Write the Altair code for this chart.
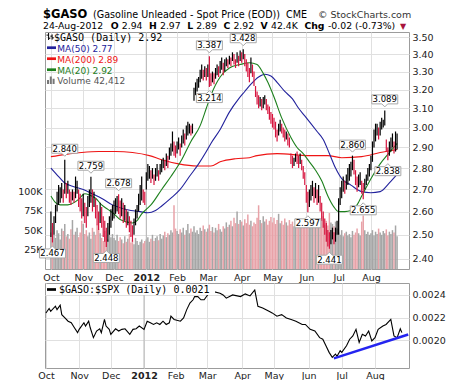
import json
import altair as alt
import pandas as pd

# ---------------- data ----------------
month_labels = ["Oct", "Nov", "Dec", "2012", "Feb", "Mar", "Apr", "May", "Jun", "Jul", "Aug"]
month_start = [0, 21, 41, 62, 82, 102, 124, 144, 166, 187, 208]   # trading-day index of first day of month

lo = [
    # Oct
    2.49, 2.467, 2.50, 2.55, 2.60, 2.63, 2.64, 2.66, 2.64, 2.68, 2.66, 2.68, 2.64, 2.63, 2.65, 2.64, 2.66, 2.68, 2.62, 2.60, 2.57,
    # Nov
    2.58, 2.55, 2.53, 2.58, 2.62, 2.64, 2.60, 2.62, 2.57, 2.54, 2.52, 2.55, 2.53, 2.49, 2.47, 2.448, 2.47, 2.50, 2.53, 2.56,
    # Dec
    2.57, 2.59, 2.60, 2.59, 2.57, 2.58, 2.55, 2.56, 2.53, 2.54, 2.51, 2.49, 2.47, 2.50, 2.54, 2.57, 2.60, 2.63, 2.65, 2.64, 2.63,
    # Jan
    2.70, 2.74, 2.75, 2.73, 2.75, 2.72, 2.74, 2.76, 2.74, 2.77, 2.78, 2.80, 2.79, 2.81, 2.80, 2.84, 2.86, 2.88, 2.86, 2.85,
    # Feb
    2.87, 2.89, 2.86, 2.90, 2.92, 2.91, 2.94, 2.96, 2.97, 2.96, 2.97, 3.14, 3.17, 3.19, 3.21, 3.24, 3.26, 3.25, 3.27, 3.25,
    # Mar
    3.27, 3.214, 3.22, 3.24, 3.23, 3.26, 3.28, 3.27, 3.29, 3.31, 3.28, 3.30, 3.33, 3.32, 3.34, 3.33, 3.36, 3.34, 3.32, 3.35, 3.33, 3.36,
    # Apr
    3.35, 3.37, 3.33, 3.30, 3.27, 3.24, 3.29, 3.27, 3.22, 3.16, 3.12, 3.10, 3.11, 3.09, 3.10, 3.12, 3.09, 3.07, 3.04, 3.02,
    # May
    3.00, 2.99, 2.95, 2.93, 2.96, 2.98, 2.97, 2.95, 2.93, 2.94, 2.91, 2.90, 2.82, 2.80, 2.81, 2.83, 2.82, 2.80, 2.82, 2.79, 2.75, 2.72,
    # Jun
    2.64, 2.597, 2.62, 2.65, 2.67, 2.64, 2.66, 2.63, 2.64, 2.60, 2.56, 2.53, 2.50, 2.47, 2.45, 2.441, 2.46, 2.48, 2.46, 2.47, 2.50,
    # Jul
    2.50, 2.63, 2.66, 2.69, 2.68, 2.70, 2.72, 2.74, 2.76, 2.79, 2.77, 2.72, 2.69, 2.71, 2.72, 2.68, 2.655, 2.70, 2.72, 2.74, 2.76,
    # Aug
    2.79, 2.83, 2.90, 2.93, 2.96, 2.94, 2.96, 2.99, 3.00, 3.01, 2.88, 2.838, 2.86, 2.88, 2.90, 2.87, 2.88, 2.89,
]
hi = [
    # Oct
    2.60, 2.55, 2.58, 2.63, 2.69, 2.72, 2.71, 2.73, 2.70, 2.84, 2.73, 2.74, 2.70, 2.69, 2.70, 2.69, 2.76, 2.74, 2.70, 2.68, 2.66,
    # Nov
    2.68, 2.64, 2.62, 2.67, 2.70, 2.759, 2.70, 2.69, 2.66, 2.63, 2.60, 2.64, 2.62, 2.58, 2.56, 2.53, 2.55, 2.58, 2.61, 2.63,
    # Dec
    2.65, 2.66, 2.67, 2.678, 2.65, 2.66, 2.64, 2.63, 2.61, 2.60, 2.58, 2.56, 2.54, 2.57, 2.61, 2.63, 2.68, 2.72, 2.76, 2.70, 2.69,
    # Jan
    2.78, 2.82, 2.81, 2.79, 2.80, 2.77, 2.80, 2.82, 2.79, 2.82, 2.84, 2.85, 2.84, 2.87, 2.86, 2.90, 2.92, 2.98, 2.93, 2.91,
    # Feb
    2.93, 2.95, 2.92, 2.96, 2.99, 2.97, 3.01, 3.03, 3.02, 3.01, 3.02, 3.21, 3.24, 3.26, 3.27, 3.31, 3.34, 3.31, 3.33, 3.32,
    # Mar
    3.34, 3.387, 3.29, 3.30, 3.29, 3.32, 3.34, 3.33, 3.36, 3.38, 3.35, 3.37, 3.38, 3.37, 3.39, 3.38, 3.41, 3.40, 3.37, 3.41, 3.39, 3.42,
    # Apr
    3.41, 3.428, 3.40, 3.37, 3.35, 3.32, 3.38, 3.34, 3.30, 3.22, 3.19, 3.17, 3.16, 3.15, 3.16, 3.17, 3.15, 3.12, 3.11, 3.08,
    # May
    3.07, 3.05, 3.03, 2.99, 3.02, 3.04, 3.02, 3.00, 2.99, 2.98, 2.97, 2.95, 2.87, 2.86, 2.85, 2.87, 2.88, 2.86, 2.87, 2.84, 2.81, 2.78,
    # Jun
    2.72, 2.69, 2.70, 2.72, 2.74, 2.71, 2.73, 2.70, 2.72, 2.67, 2.64, 2.60, 2.57, 2.55, 2.52, 2.51, 2.52, 2.53, 2.51, 2.53, 2.56,
    # Jul
    2.66, 2.71, 2.74, 2.76, 2.74, 2.77, 2.80, 2.82, 2.83, 2.86, 2.84, 2.79, 2.76, 2.77, 2.78, 2.74, 2.73, 2.75, 2.77, 2.80, 2.82,
    # Aug
    2.86, 2.93, 2.99, 3.02, 3.02, 3.00, 3.03, 3.05, 3.04, 3.089, 2.94, 2.90, 2.93, 2.95, 2.97, 2.93, 2.98, 2.97,
]
vol_k = [
    47, 55, 44, 40, 50, 46, 38, 52, 49, 58, 42, 45, 39, 51, 63, 44, 48, 53, 41, 47, 62,
    58, 45, 50, 42, 47, 39, 53, 48, 44, 57, 51, 46, 40, 36, 49, 43, 38, 55, 41, 45,
    40, 37, 44, 36, 41, 38, 33, 42, 35, 39, 45, 34, 37, 32, 40, 36, 31, 35, 38, 33, 36,
    38, 41, 35, 39, 44, 36, 40, 42, 37, 45, 39, 43, 48, 41, 46, 44, 50, 47, 82, 52,
    49, 45, 51, 47, 53, 44, 50, 58, 46, 52, 48, 55, 47, 50, 45, 53, 49, 56, 51, 48,
    52, 57, 49, 54, 47, 53, 50, 58, 51, 48, 55, 52, 60, 54, 57, 62, 55, 66, 59, 74, 58, 63,
    61, 56, 64, 59, 70, 57, 62, 55, 60, 58, 66, 82, 63, 59, 68, 61, 64, 57, 62, 67,
    60, 66, 58, 63, 71, 59, 62, 57, 65, 60, 56, 63, 58, 61, 55, 64, 57, 60, 54, 62, 58, 59,
    61, 56, 63, 58, 55, 62, 57, 60, 54, 59, 63, 68, 57, 62, 56, 72, 60, 58, 55, 61, 52,
    47, 44, 50, 42, 46, 48, 43, 45, 41, 49, 44, 47, 52, 46, 43, 61, 69, 50, 45, 48, 44,
    46, 50, 43, 48, 45, 52, 47, 44, 49, 46, 51, 43, 48, 45, 50, 47, 56, 42,
]

ma20_idx = [0, 3, 6, 11, 15, 18, 22, 25, 29, 33, 37, 41, 45, 49, 53, 56, 59, 62, 65, 72, 78, 85, 91, 97, 101,
            104, 110, 116, 123, 129, 134, 138, 141, 145, 150, 156, 160, 164, 168, 172, 176, 180, 184, 187, 191,
            195, 199, 202, 205, 208, 214, 220, 225]
ma20_val = [2.67, 2.64, 2.63, 2.63, 2.64, 2.655, 2.68, 2.675, 2.66, 2.63, 2.61, 2.59, 2.565, 2.555, 2.55, 2.56,
            2.59, 2.61, 2.63, 2.70, 2.76, 2.84, 2.93, 3.01, 3.10, 3.17, 3.27, 3.32, 3.34, 3.35, 3.34, 3.29, 3.24,
            3.16, 3.05, 2.95, 2.90, 2.87, 2.83, 2.79, 2.74, 2.67, 2.62, 2.60, 2.60, 2.605, 2.63, 2.67, 2.71, 2.75,
            2.82, 2.875, 2.92]
ma50_idx = [0, 5, 9, 14, 21, 27, 34, 40, 46, 52, 58, 63, 68, 72, 78, 84, 90, 96, 101, 104, 110, 116, 122, 126,
            130, 135, 139, 143, 147, 152, 157, 161, 165, 169, 173, 177, 181, 185, 189, 195, 202, 208, 214, 220, 225]
ma50_val = [2.80, 2.76, 2.73, 2.715, 2.70, 2.68, 2.655, 2.63, 2.615, 2.605, 2.60, 2.595, 2.605, 2.625, 2.66, 2.70,
            2.76, 2.82, 2.88, 2.92, 2.99, 3.08, 3.15, 3.19, 3.23, 3.27, 3.285, 3.275, 3.24, 3.19, 3.15, 3.10, 3.06,
            3.02, 2.98, 2.94, 2.87, 2.80, 2.75, 2.72, 2.69, 2.685, 2.69, 2.73, 2.77]
ma200_idx = [0, 9, 20, 31, 42, 53, 64, 72, 83, 95, 104, 110, 120, 129, 134, 147, 168, 180, 189, 202, 214, 225]
ma200_val = [2.855, 2.865, 2.875, 2.88, 2.88, 2.875, 2.86, 2.84, 2.82, 2.81, 2.81, 2.83, 2.845, 2.85, 2.86, 2.87,
             2.86, 2.86, 2.85, 2.855, 2.875, 2.89]

ann_idx = [1, 9, 26, 36, 44, 103, 103, 125, 167, 181, 196, 203, 217, 219]
ann_val = [2.467, 2.840, 2.759, 2.448, 2.678, 3.387, 3.214, 3.428, 2.597, 2.441, 2.860, 2.655, 3.089, 2.838]
ann_pos = ["below", "above", "above", "below", "above", "above", "below", "above", "below", "below",
           "above", "below", "above", "below"]

ratio_idx = [0, 2, 3, 6, 7, 9, 10, 12, 14, 16, 18, 20, 21, 24, 25, 27, 28, 30, 32, 34, 35, 37, 38, 40, 41, 44,
             46, 48, 50, 53, 55, 57, 59, 62, 64, 66, 68, 70, 72, 74, 76, 78, 79, 81, 85, 87, 89, 91, 93, 94, 96,
             98, 100, 103, 106, 110, 112, 114, 118, 123, 126, 129, 132, 134, 137, 141, 143, 146, 149, 152, 155,
             158, 162, 164, 167, 170, 173, 175, 177, 179, 181, 183, 184, 186, 187, 190, 192, 194, 196, 198, 200,
             202, 204, 206, 208, 210, 213, 215, 218, 220, 222, 224, 225]
ratio_val = [0.00224, 0.00228, 0.002255, 0.0023, 0.00227, 0.00231, 0.002226, 0.002197, 0.002168, 0.002154,
             0.00211, 0.002067, 0.002096, 0.002154, 0.002125, 0.002168, 0.00211, 0.002023, 0.002081, 0.002101,
             0.002067, 0.002183, 0.002125, 0.002096, 0.002052, 0.002101, 0.002081, 0.002096, 0.002101, 0.002052,
             0.002096, 0.002101, 0.002125, 0.002096, 0.002168, 0.002154, 0.002139, 0.002154, 0.002139, 0.002168,
             0.002139, 0.002154, 0.002212, 0.002183, 0.002168, 0.002197, 0.00227, 0.002328, 0.002357, 0.002385,
             0.002385, 0.002357, 0.002357, 0.002415, 0.002429, 0.002415, 0.0024, 0.002371, 0.0024, 0.002385,
             0.002409, 0.002391, 0.002443, 0.002299, 0.002284, 0.002255, 0.002241, 0.002212, 0.002226, 0.002197,
             0.002183, 0.002168, 0.002139, 0.002139, 0.002096, 0.002081, 0.002023, 0.002009, 0.001951, 0.001893,
             0.001849, 0.001878, 0.001858, 0.001907, 0.001893, 0.001951, 0.002009, 0.002038, 0.002096, 0.00198,
             0.002052, 0.002038, 0.002081, 0.001994, 0.002023, 0.002096, 0.002125, 0.002139, 0.002183, 0.002038,
             0.002023, 0.002101, 0.002067]
trend_idx = [182, 229]
trend_val = [0.00184, 0.00205]

price_ticks = [2.4, 2.5, 2.6, 2.7, 2.8, 2.9, 3.0, 3.1, 3.2, 3.3, 3.4, 3.5]
vol_ticks = [25000, 50000, 75000, 100000]
ratio_ticks = [0.0020, 0.0022, 0.0024]

# ---------------- tables ----------------
n = len(lo)
mid = [(a + b) / 2 for a, b in zip(lo, hi)]
direction = ["up"] + ["up" if mid[i] >= mid[i - 1] else "down" for i in range(1, n)]
bars = pd.DataFrame({"idx": list(range(n)), "lo": lo, "hi": hi,
                     "vol": [v * 1000 for v in vol_k], "dir": direction})
ma20 = pd.DataFrame({"idx": ma20_idx, "val": ma20_val})
ma50 = pd.DataFrame({"idx": ma50_idx, "val": ma50_val})
ma200 = pd.DataFrame({"idx": ma200_idx, "val": ma200_val})
ann = pd.DataFrame({"idx": ann_idx, "val": ann_val, "pos": ann_pos,
                    "label": [f"{v:.3f}" for v in ann_val]})
ratio = pd.DataFrame({"idx": ratio_idx, "val": ratio_val})
trend = pd.DataFrame({"idx": trend_idx, "val": trend_val})
year = pd.DataFrame({"idx": [month_start[3]]})
ONE = pd.DataFrame({"k": [0]})

# ---------------- scales / axes ----------------
X_SCALE = alt.Scale(domain=[-0.6, 229.5], nice=False, zero=False)
P_SCALE = alt.Scale(type="log", domain=[2.358, 3.53], nice=False)
V_SCALE = alt.Scale(domain=[0, 305000], nice=False)
R_SCALE = alt.Scale(domain=[0.001755, 0.002505], nice=False, zero=False)

LABEL_EXPR = f"{json.dumps(month_labels)}[indexof({json.dumps(month_start)}, datum.value)]"
BOLD_2012 = {"condition": {"test": f"datum.value === {month_start[3]}", "value": "bold"}, "value": "normal"}
GRID = "#e0e0e0"


def x_axis(pad):
    return alt.Axis(values=month_start, labelExpr=LABEL_EXPR, grid=True, gridColor=GRID, ticks=False,
                    domain=False, labelPadding=pad, title=None, labelFlush=False, labelOverlap=False,
                    labelFontWeight=BOLD_2012)


XU = x_axis(3)
XL = x_axis(2)
P_AX = alt.Axis(orient="right", values=price_ticks, format=".2f", grid=True, gridColor=GRID, ticks=False,
                domain=False, labelPadding=3, title=None)
V_AX = alt.Axis(orient="left", values=vol_ticks, labelExpr="(datum.value / 1000) + 'K'", grid=False,
                ticks=False, domain=False, labelPadding=3, title=None)
R_AX = alt.Axis(orient="right", values=ratio_ticks, format=".4f", grid=True, gridColor=GRID, ticks=False,
                domain=False, labelPadding=3, title=None)


def txt(s, x, y, size=9.0, weight="normal", color="#000000", font="DejaVu Sans", align="left"):
    return alt.Chart(ONE).mark_text(text=s, font=font, fontSize=size, fontWeight=weight, color=color,
                                    align=align, baseline="alphabetic").encode(x=alt.value(x), y=alt.value(y))


def dash(x1, x2, y, color, w=2.7):
    return alt.Chart(ONE).mark_rule(color=color, strokeWidth=w).encode(
        x=alt.value(x1), x2=alt.value(x2), y=alt.value(y))


# ---------------- upper panel ----------------
vol_layer = alt.Chart(bars).mark_bar(orient="vertical", size=1.5).encode(
    x=alt.X("idx:Q", scale=X_SCALE, axis=XU),
    y=alt.Y("vol:Q", scale=V_SCALE, axis=V_AX),
    color=alt.condition("datum.dir == 'up'", alt.value("#a6a6a6"), alt.value("#e8a2a8")),
)

year_rule = alt.Chart(year).mark_rule(color="#b4b4b4", strokeWidth=1).encode(
    x=alt.X("idx:Q", scale=X_SCALE, axis=XU))

price_bars = alt.Chart(bars).mark_rule(strokeWidth=1.2).encode(
    x=alt.X("idx:Q", scale=X_SCALE, axis=XU),
    y=alt.Y("lo:Q", scale=P_SCALE, axis=P_AX),
    y2="hi:Q",
    color=alt.condition("datum.dir == 'up'", alt.value("#000000"), alt.value("#d6143e")),
)


def ma_line(df, color):
    return alt.Chart(df).mark_line(interpolate="monotone", strokeWidth=1.1, color=color).encode(
        x=alt.X("idx:Q", scale=X_SCALE, axis=XU),
        y=alt.Y("val:Q", scale=P_SCALE, axis=P_AX))


BOX_ABOVE = "M-1,-0.346L1,-0.346L1,0.346L0.23,0.346L0,0.577L-0.23,0.346L-1,0.346Z"
BOX_BELOW = "M-1,0.346L1,0.346L1,-0.346L0.23,-0.346L0,-0.577L-0.23,-0.346L-1,-0.346Z"


def ann_layers(pos, shape, off):
    base = alt.Chart(ann).transform_filter(f"datum.pos == '{pos}'")
    enc = dict(x=alt.X("idx:Q", scale=X_SCALE, axis=XU), y=alt.Y("val:Q", scale=P_SCALE, axis=P_AX))
    box = base.mark_point(shape=shape, size=676, filled=True, fill="white", stroke="#a8a8a8",
                          strokeWidth=1, opacity=1, yOffset=off).encode(**enc)
    lab = base.mark_text(font="DejaVu Sans", fontSize=8.5, color="#000000", align="center",
                         baseline="middle", yOffset=off).encode(text="label:N", **enc)
    return [box, lab]


price_group = alt.layer(
    ma_line(ma200, "#ee1515"), ma_line(ma50, "#22229c"), ma_line(ma20, "#1d801d"), price_bars,
    *ann_layers("above", BOX_ABOVE, -11), *ann_layers("below", BOX_BELOW, 11),
)

OHLC_ICON = "M-0.4,-1L-0.4,1M-1,-0.4L-0.4,-0.4M-0.4,0.5L0.1,0.5M0.6,-0.6L0.6,0.9M0.1,-0.1L0.6,-0.1M0.6,0.4L1.1,0.4"
VOL_ICON = "M-1,1L-1,0L-0.5,0L-0.5,1ZM-0.3,1L-0.3,-0.9L0.2,-0.9L0.2,1ZM0.4,1L0.4,-0.3L0.9,-0.3L0.9,1Z"

legend_upper = [
    alt.Chart(ONE).mark_point(shape=OHLC_ICON, size=49, filled=False, stroke="#000000", strokeWidth=1,
                              opacity=1).encode(x=alt.value(5), y=alt.value(4.5)),
    txt("$GASO (Daily) 2.92", 9, 8.8, size=10, font="DejaVu Sans Mono"),
    dash(2, 11, 15.7, "#22229c"), txt("MA(50) 2.77", 12.3, 19.5, color="#22229c"),
    dash(2, 11, 26.7, "#ee1515"), txt("MA(200) 2.89", 12.3, 30.5, color="#ee1515"),
    dash(2, 11, 37.7, "#1d801d"), txt("MA(20) 2.92", 12.3, 41.5, color="#1d801d"),
    alt.Chart(ONE).mark_point(shape=VOL_ICON, size=64, filled=True, fill="#777777", stroke=None,
                              opacity=1).encode(x=alt.value(6), y=alt.value(48)),
    txt("Volume 42,412", 12.3, 52, color="#555555"),
]

# header lines (x relative to the plot's left edge)
HY1, HY2, HS = -14.2, -2.8, 9.3
line2 = [("24-Aug-2012", -2, "normal"), ("O", 65.7, "bold"), ("2.94", 76.8, "normal"),
         ("H", 104, "bold"), ("2.97", 115, "normal"), ("L", 142.2, "bold"), ("2.89", 151.2, "normal"),
         ("C", 178.4, "bold"), ("2.92", 188.4, "normal"), ("V", 215.6, "bold"), ("42.4K", 226, "normal"),
         ("Chg", 259.4, "bold"), ("-0.02 (-0.73%)", 283, "normal")]
header = [
    txt("$GASO", -2, HY1, size=11.5, weight="bold"),
    txt("(Gasoline Unleaded - Spot Price (EOD))", 48, HY1, size=9.6),
    txt("CME", 241, HY1, size=9.6),
    txt("\u00a9 StockCharts.com", 273, HY1, size=9.5, color="#333333"),
    *[txt(s, x, HY2, size=HS, weight=w) for s, x, w in line2],
    txt("\u25bc", 355, HY2, size=8, color="#a8143c"),
]

upper = alt.layer(
    vol_layer, year_rule, price_group, *legend_upper, *header
).resolve_scale(y="independent").properties(width=364, height=237)

# ---------------- lower panel ----------------
year_rule_l = alt.Chart(year).mark_rule(color="#b4b4b4", strokeWidth=1).encode(
    x=alt.X("idx:Q", scale=X_SCALE, axis=XL))
ratio_line = alt.Chart(ratio).mark_line(color="#000000", strokeWidth=1.1).encode(
    x=alt.X("idx:Q", scale=X_SCALE, axis=XL),
    y=alt.Y("val:Q", scale=R_SCALE, axis=R_AX))
trend_line = alt.Chart(trend).mark_line(color="#2424f0", strokeWidth=2.6).encode(
    x=alt.X("idx:Q", scale=X_SCALE, axis=XL),
    y=alt.Y("val:Q", scale=R_SCALE, axis=R_AX))
legend_box = alt.Chart(ONE).mark_rect(color="white").encode(
    x=alt.value(1), x2=alt.value(170), y=alt.value(1), y2=alt.value(12))

lower = alt.layer(
    year_rule_l, ratio_line, trend_line, legend_box,
    dash(2, 11, 6.5, "#000000"),
    txt("$GASO:$SPX (Daily) 0.0021", 14, 10, size=10, font="DejaVu Sans Mono"),
).properties(width=364, height=85)

chart = alt.vconcat(upper, lower, spacing=0).properties(
    padding={"left": 9, "top": 0, "right": 4, "bottom": 0}
).configure_view(stroke="#9c9c9c", strokeWidth=1).configure_axis(
    labelFont="DejaVu Sans", labelFontSize=9.5, labelColor="#222222"
)

chart.save("out.html", embed_options={"renderer": "svg", "actions": False})
